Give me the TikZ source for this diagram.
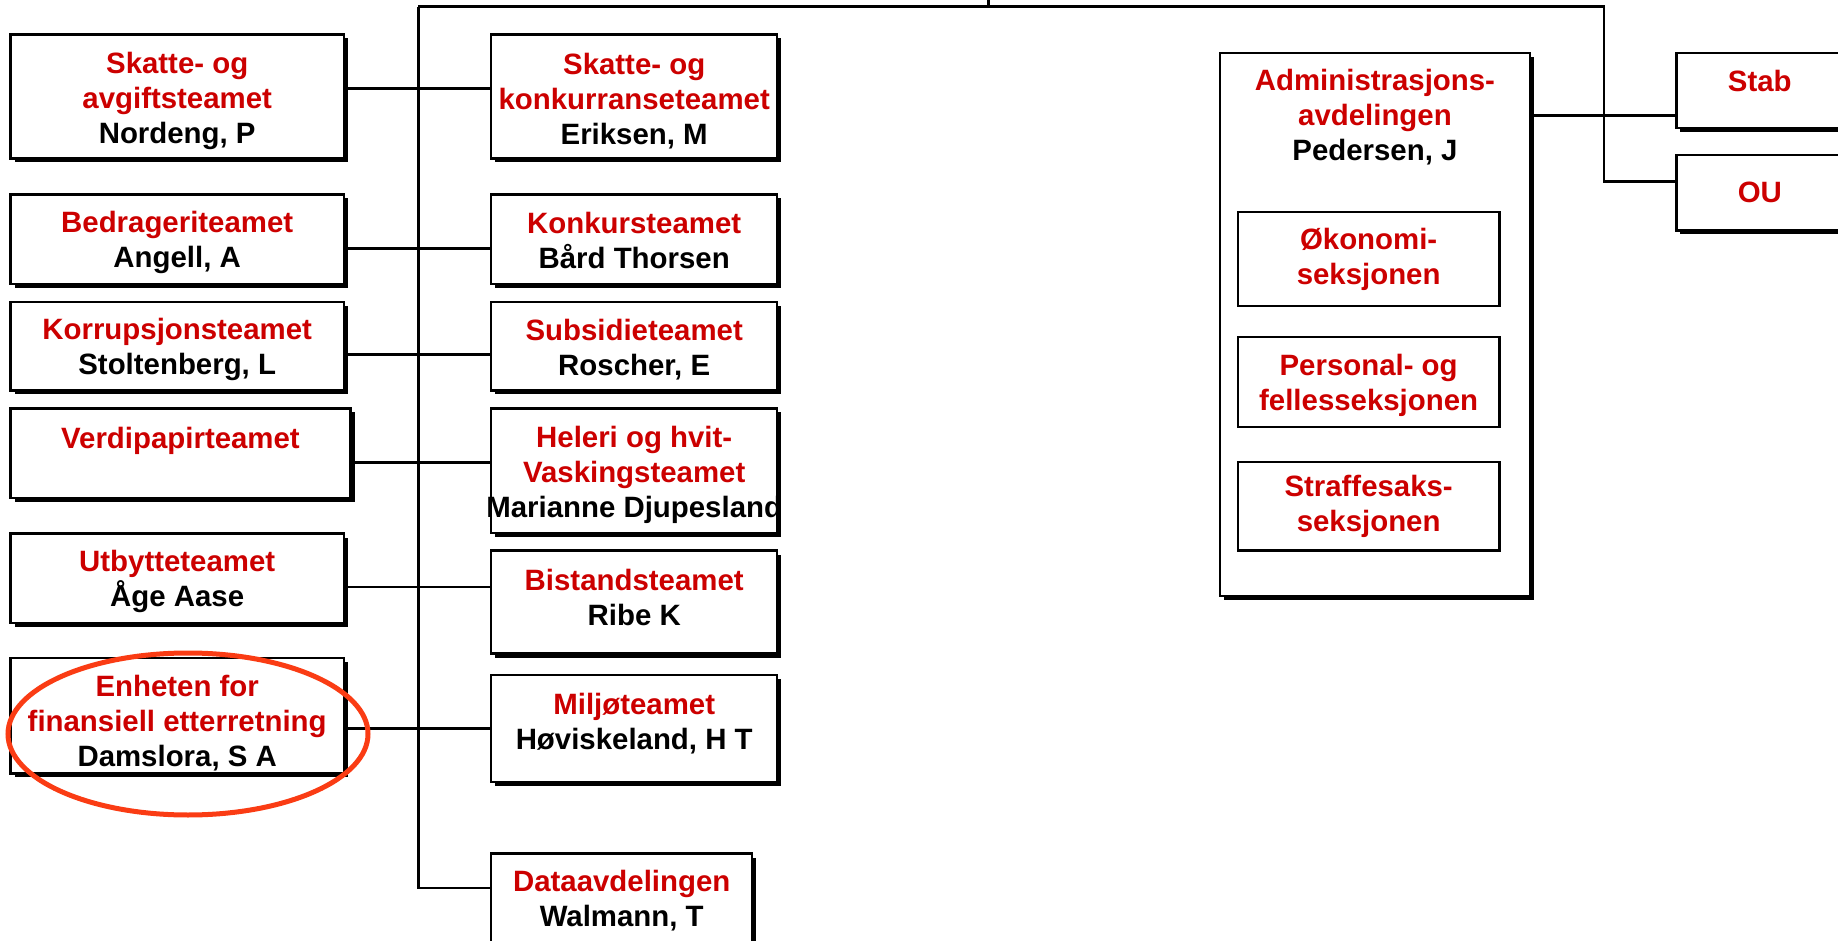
\documentclass[tikz,border=0pt]{standalone}
\usepackage{fontspec}
\setmainfont{Liberation Sans}
\usetikzlibrary{positioning, shadows}

\definecolor{teamred}{RGB}{204,0,0}
\definecolor{ringred}{RGB}{250,60,20}
\newlength\textdrop
\newcommand{\dept}[1]{\raisebox{-\textdrop}[\height][\depth]{\textcolor{teamred}{#1}}}
\newcommand{\chief}[1]{\raisebox{-\textdrop}[\height][\depth]{#1}}

\begin{document}
\begin{tikzpicture}[
  x=0.5pt, y=-0.5pt,
  sink/.style={execute at begin node={\global\textdrop=#1\relax}},
  unit/.style={draw, line width=1.2pt, fill=white, align=center, inner sep=0pt,
               anchor=north west, font=\fontsize{14.7pt}{17.5pt}\selectfont\bfseries, sink=0pt,
               drop shadow={shadow xshift=2pt, shadow yshift=-2pt, fill=black, opacity=1}},
  lcol/.style={unit, minimum width=166.7pt},
  mcol/.style={unit, minimum width=143pt},
  sect/.style={draw, line width=1.2pt, fill=white, align=center, inner sep=0pt,
               anchor=north west, minimum width=130.75pt, sink=0pt,
               font=\fontsize{14.7pt}{17.5pt}\selectfont\bfseries},
  link/.style={line width=1.35pt},
  ring/.style={draw=ringred, line width=2.5pt},
]
\useasboundingbox (0,0) rectangle (1838,941);
\clip (0,0) rectangle (1838,941);

% === Nodes ===

% Left column
\node[lcol, minimum height=62pt, sink=2.3pt] (l1) at (9.3,33.3) {\dept{Skatte- og}\\\dept{avgiftsteamet}\\\chief{Nordeng, P}};
\node[lcol, minimum height=44.7pt, sink=1.75pt] (l2) at (9.3,193.3) {\dept{Bedrageriteamet}\\\chief{Angell, A}};
\node[lcol, minimum height=44.3pt, sink=1.75pt] (l3) at (9.3,300.7) {\dept{Korrupsjonsteamet}\\\chief{Stoltenberg, L}};
\node[lcol, minimum width=170pt, minimum height=44.6pt, text depth=15.3pt] (l4) at (9.3,407.3) {\dept{Verdipapirteamet}};
\node[lcol, minimum height=44.6pt, sink=1.75pt] (l5) at (9.3,532.3) {\dept{Utbytteteamet}\\\chief{Åge Aase}};
\node[lcol, minimum height=57.6pt, sink=3.5pt] (l6) at (9.3,657) {\dept{Enheten for}\\\dept{finansiell etterretning}\\\chief{Damslora, S A}};

% Middle column
\node[mcol, minimum height=62pt, sink=2.3pt] (m1) at (490,33.3) {\dept{Skatte- og}\\\dept{konkurranseteamet}\\\chief{Eriksen, M}};
\node[mcol, minimum height=44.7pt, sink=0.6pt] (m2) at (490,193.3) {\dept{Konkursteamet}\\\chief{Bård Thorsen}};
\node[mcol, minimum height=44.3pt, sink=1.75pt] (m3) at (490,300.7) {\dept{Subsidieteamet}\\\chief{Roscher, E}};
\node[mcol, minimum height=62.2pt, sink=2.3pt] (m4) at (490,407.3) {\dept{Heleri og hvit-}\\\dept{Vaskingsteamet}\\\chief{\makebox[0pt]{Marianne Djupesland}}};
\node[mcol, minimum height=51.5pt, sink=-2.3pt] (m5) at (490,549.3) {\dept{Bistandsteamet}\\\chief{Ribe K}};
\node[mcol, minimum height=53.5pt, sink=-2.3pt] (m6) at (490,674) {\dept{Miljøteamet}\\\chief{Høviskeland, H T}};
\node[mcol, minimum width=130.5pt, minimum height=47pt] (m7) at (490,852.3) {\dept{Dataavdelingen}\\\chief{Walmann, T}};

% Administration
\node[unit, minimum width=154.75pt, minimum height=271.65pt] (adm) at (1219,51.7) {};
\node[below=8.5pt of adm.north, align=center, inner sep=0pt, sink=0pt,
      font=\fontsize{14.7pt}{17.5pt}\selectfont\bfseries] (admtxt)
      {\dept{Administrasjons-}\\\dept{avdelingen}\\\chief{Pedersen, J}};
\node[sect, minimum height=47pt] (oko) at (1236.7,211) {\dept{Økonomi-}\\\dept{seksjonen}};
\node[sect, minimum height=44.85pt, sink=1.5pt] (pers) at (1236.7,336) {\dept{Personal- og}\\\dept{fellesseksjonen}};
\node[sect, minimum height=44.3pt] (straff) at (1236.7,460.7) {\dept{Straffesaks-}\\\dept{seksjonen}};

% Staff units
\node[unit, minimum width=83.4pt, minimum height=37.5pt, text depth=9.3pt] (stab) at (1675.2,51.7) {\dept{Stab}};
\node[unit, minimum width=83.4pt, minimum height=37.65pt] (ou) at (1675.2,154) {\dept{OU}};

% === Lines ===
\coordinate (apex) at (988.3,0);
\coordinate (hub) at (418.3,6.7);
\coordinate (corner) at (1604,6.7);

\draw[link] (apex) -- (apex |- hub);
\draw[link] (hub) -- (corner) |- ([yshift=5.8pt]ou.west);
\draw[link] ([yshift=-12.4pt]stab.west -| adm.east) -- ([yshift=-12.4pt]stab.west);
\draw[link] (hub) |- ([yshift=6.3pt]m7.west);

\draw[link] ([yshift=4pt]l1.east) -- ([yshift=4pt]l1.east -| m1.west);
\draw[link] ([yshift=-4.65pt]l2.east) -- ([yshift=-4.65pt]l2.east -| m2.west);
\draw[link] ([yshift=-4.15pt]l3.east) -- ([yshift=-4.15pt]l3.east -| m3.west);
\draw[link] ([yshift=-4.55pt]l4.east) -- ([yshift=-4.55pt]l4.east -| m4.west);
\draw[link] ([yshift=-4.4pt]l5.east) -- ([yshift=-4.4pt]l5.east -| m5.west);
\draw[link] ([yshift=-6.35pt]l6.east) -- ([yshift=-6.35pt]l6.east -| m6.west);

% === Highlight ===
\draw[ring] (188,734) ellipse [x radius=180, y radius=81];

\end{tikzpicture}
\end{document}
